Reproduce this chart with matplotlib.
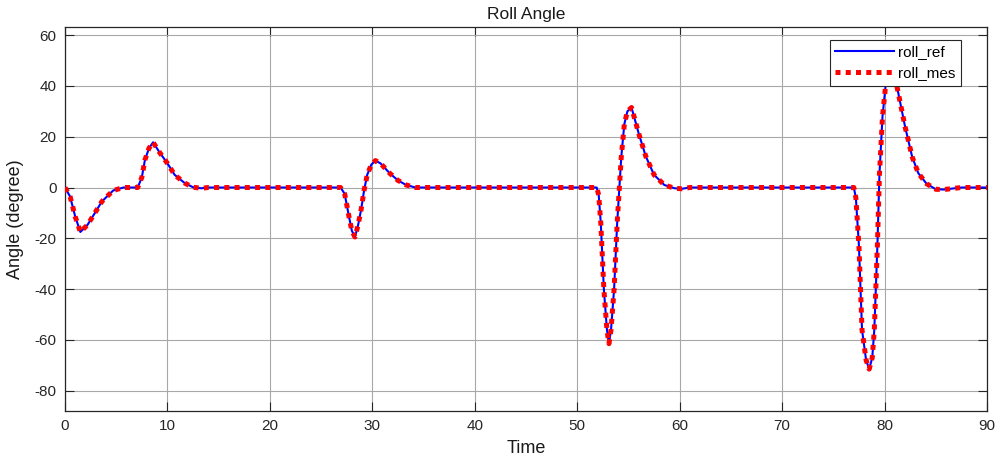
import matplotlib
matplotlib.use("Agg")
import matplotlib.pyplot as plt

plt.rcParams['font.family'] = ['Liberation Sans', 'DejaVu Sans']
plt.rcParams['axes.unicode_minus'] = False

# Roll angle samples (time in s, angle in degrees)
time = [0.0, 0.5, 1.0, 1.5, 2.2, 2.8, 3.6, 4.7, 5.7, 7.1, 7.5, 7.8, 8.2, 8.6,
        9.2, 10.0, 10.7, 11.7, 12.5, 13.3, 14.0,
        26.9, 27.3, 27.7, 28.0, 28.3, 28.6, 28.9, 29.2, 29.5, 29.9, 30.3,
        30.8, 31.7, 32.5, 33.3, 34.2,
        51.9, 52.1, 52.3, 52.6, 52.9, 53.1, 53.3, 53.6, 53.9, 54.3, 54.6,
        54.9, 55.3, 56.0, 56.7, 57.5, 58.5, 59.5, 60.2, 61.0,
        77.0, 77.2, 77.5, 77.8, 78.2, 78.5, 78.8, 79.0, 79.3, 79.5, 79.8,
        80.1, 80.6, 81.2, 81.6, 82.0, 82.7, 83.3, 84.1, 85.0, 85.8, 87.5, 90.0]

roll_ref = [0.0, -3.6, -11.5, -17.5, -14.7, -10.8, -5.5, -1.2, 0.0, 0.0, 4.0,
            10.8, 15.5, 17.8, 14.0, 9.5, 5.0, 1.7, 0.1, -0.3, 0.0,
            0.0, -2.5, -11.0, -17.0, -19.5, -15.0, -8.8, -1.0, 5.0, 9.0,
            10.6, 9.5, 5.6, 2.8, 1.0, 0.0,
            0.0, -3.0, -14.0, -40.0, -56.0, -61.5, -56.0, -40.0, -14.0, 12.0,
            25.0, 30.0, 31.5, 21.3, 12.2, 5.0, 1.0, -0.3, -0.5, 0.0,
            0.0, -4.0, -23.0, -56.0, -68.0, -71.5, -67.0, -56.0, -23.0, 5.0,
            28.0, 40.0, 46.0, 40.0, 32.0, 24.0, 12.0, 5.6, 1.5, -0.7, -0.8,
            0.0, 0.0]

roll_mes = list(roll_ref)

x_ticks = [0, 10, 20, 30, 40, 50, 60, 70, 80, 90]
y_ticks = [-80, -60, -40, -20, 0, 20, 40, 60]

fig = plt.figure(figsize=(9.98, 4.68), dpi=100)
ax = fig.add_axes([65 / 998, 1 - 411 / 468, (987 - 65) / 998, (411 - 27) / 468])

ax.plot(time, roll_ref, color='#0000ff', linewidth=1.5, label='roll_ref', zorder=3)
ax.plot(time, roll_mes, color='#ff0000', linewidth=3.6,
        linestyle=(0, (1, 1.05)), dash_capstyle='butt', label='roll_mes', zorder=4)

ax.set_xlim(0, 90)
ax.set_ylim(-88, 63.2)
ax.set_xticks(x_ticks)
ax.set_yticks(y_ticks)
ax.tick_params(direction='in', length=6.5, width=0.8, top=True, right=True,
               labelsize=11, colors='#262626', pad=6)
ax.grid(True, color='#a8a8a8', linewidth=0.8)
ax.set_axisbelow(True)
for s in ax.spines.values():
    s.set_color('#262626')
    s.set_linewidth(0.9)

ax.set_title('Roll Angle', fontsize=12.5, color='#1a1a1a', pad=6)
ax.set_xlabel('Time', fontsize=13, color='#1a1a1a', labelpad=5)
ax.set_ylabel('Angle (degree)', fontsize=13, color='#1a1a1a', labelpad=8)

leg = ax.legend(loc='upper right', bbox_to_anchor=(0.9718, 0.966), borderaxespad=0,
                fontsize=11, fancybox=False, framealpha=1, edgecolor='#262626',
                handlelength=3.9, handletextpad=0.25, borderpad=0.35, labelspacing=0.45)
leg.get_frame().set_linewidth(0.8)
leg.set_zorder(10)

fig.savefig('out.png', dpi=100)
